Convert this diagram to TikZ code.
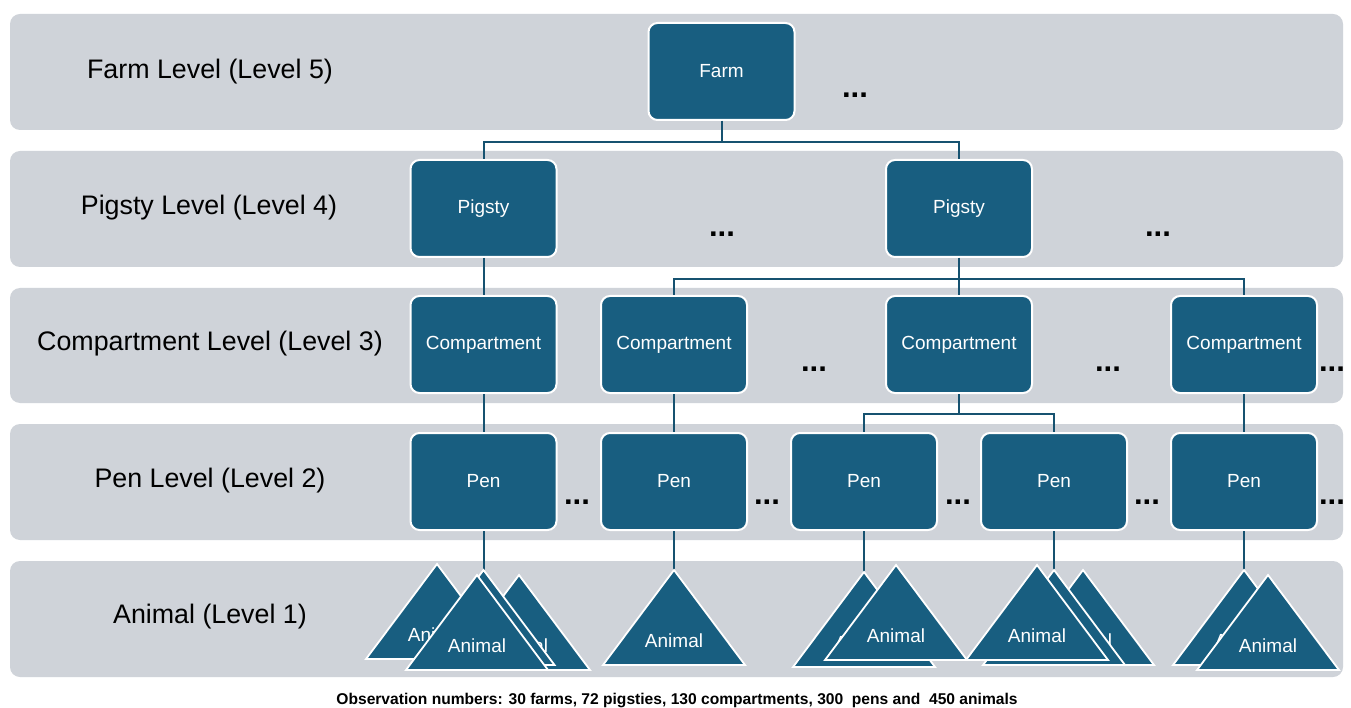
\documentclass[tikz,border=0pt]{standalone}
\usepackage{fontspec}
\setmainfont{Liberation Sans}
\definecolor{bandgray}{RGB}{207,211,217}
\definecolor{boxblue}{RGB}{24,94,128}
\definecolor{linecol}{RGB}{22,82,112}
\newcommand\animaltri[4]{%
  \coordinate (#1) at (#2,#3);
  \path[tri] (#1) -- ++(-71,95) -- ++(142,0) -- cycle;
  \node[trilabel] (#1-lab) at (#2,{#3+71}) {#4};}
\begin{document}
\begin{tikzpicture}[x=1pt,y=-1pt,
  band/.style={fill=bandgray, rounded corners=10pt},
  box/.style={fill=boxblue, draw=white, line width=2pt, rounded corners=9pt,
    minimum width=146pt, minimum height=97pt, text=white,
    font=\fontsize{19}{22}\selectfont, inner sep=0pt},
  lvl/.style={font=\fontsize{26.8}{30}\selectfont, text=black, inner sep=0pt},
  conn/.style={draw=linecol, line width=2pt},
  dots/.style={font=\bfseries\fontsize{31}{31}\selectfont, inner sep=0pt},
  tri/.style={fill=boxblue, draw=white, line width=1.8pt, line join=miter},
  trilabel/.style={text=white, font=\fontsize{19}{22}\selectfont, inner sep=0pt},
  caption/.style={font=\bfseries\fontsize{15.6}{18}\selectfont, inner sep=0pt}
]
\useasboundingbox (0,0) rectangle (1351,708);
\fill[white] (0,0) rectangle (1351,708);
% bands
\path[band] (10,14) rectangle (1343,130);
\path[band] (10,151) rectangle (1343,267);
\path[band] (10,288) rectangle (1343,403);
\path[band] (10,424) rectangle (1343,540);
\path[band] (10,561) rectangle (1343,677);
% level labels
\node[lvl] (l5) at (210,72) {Farm Level (Level 5)};
\node[lvl] (l4) at (209,208) {Pigsty Level (Level 4)};
\node[lvl] (l3) at (210,344) {Compartment Level (Level 3)};
\node[lvl] (l2) at (210,481) {Pen Level (Level 2)};
\node[lvl] (l1) at (210,617) {Animal (Level 1)};
% boxes
\node[box] (farm) at (721.5,71.5) {Farm};
\node[box] (pig1) at (483.5,208.5) {Pigsty};
\node[box] (pig2) at (959,208.5) {Pigsty};
\node[box] (comp1) at (483.5,344.5) {Compartment};
\node[box] (comp2) at (674,344.5) {Compartment};
\node[box] (comp3) at (959,344.5) {Compartment};
\node[box] (comp4) at (1244,344.5) {Compartment};
\node[box] (pen1) at (483.5,481.5) {Pen};
\node[box] (pen2) at (674,481.5) {Pen};
\node[box] (pen3) at (864,481.5) {Pen};
\node[box] (pen4) at (1054,481.5) {Pen};
\node[box] (pen5) at (1244,481.5) {Pen};
% dots
\node[dots] (d1) at (855,95) {...};
\node[dots] (d2) at (722,234) {...};
\node[dots] (d3) at (1158,234) {...};
\node[dots] (d4) at (814,369) {...};
\node[dots] (d5) at (1108,369) {...};
\node[dots] (d6) at (1332,369) {...};
\node[dots] (d7) at (577,502) {...};
\node[dots] (d8) at (767,502) {...};
\node[dots] (d9) at (958,502) {...};
\node[dots] (d10) at (1147,502) {...};
\node[dots] (d11) at (1332,502) {...};
% tree connectors
\draw[conn] (farm.south) -- ++(0,21) -| (pig1.north);
\draw[conn] (farm.south) -- ++(0,21) -| (pig2.north);
\draw[conn] (pig1.south) -- (comp1.north);
\draw[conn] (pig2.south) -- ++(0,21) -| (comp2.north);
\draw[conn] (pig2.south) -- ++(0,21) -| (comp3.north);
\draw[conn] (pig2.south) -- ++(0,21) -| (comp4.north);
\draw[conn] (comp1.south) -- (pen1.north);
\draw[conn] (comp2.south) -- (pen2.north);
\draw[conn] (comp3.south) -- ++(0,20) -| (pen3.north);
\draw[conn] (comp3.south) -- ++(0,20) -| (pen4.north);
\draw[conn] (comp4.south) -- (pen5.north);
% pen to animal connectors
\coordinate (a1b) at (483.5,570);
\coordinate (a2) at (674,570);
\coordinate (a3b) at (864,572);
\coordinate (a4b) at (1054,570);
\coordinate (a5b) at (1244,570);
\draw[conn] (pen1.south) -- (a1b);
\draw[conn] (pen2.south) -- (a2);
\draw[conn] (pen3.south) -- (a3b);
\draw[conn] (pen4.south) -- (a4b);
\draw[conn] (pen5.south) -- (a5b);
% animals group 1
\animaltri{g1l}{437}{564}{Animal}
\animaltri{g1r}{519}{575}{Animal}
\animaltri{g1m}{483.5}{570}{Animal}
\animaltri{g1f}{477}{575}{Animal}
% group 2
\animaltri{g2}{674}{570}{Animal}
% group 3
\animaltri{g3b}{864}{572}{Animal}
\animaltri{g3f}{896}{565}{Animal}
% group 4
\animaltri{g4r}{1083}{570}{Animal}
\animaltri{g4m}{1054}{570}{Animal}
\animaltri{g4f}{1037}{565}{Animal}
% group 5
\animaltri{g5b}{1244}{570}{Animal}
\animaltri{g5f}{1268}{575}{Animal}
% caption
\node[caption] (cap) at (677,700) {Observation numbers: 30 farms, 72 pigsties, 130 compartments, 300\ \ pens and\ \ 450 animals};
\end{tikzpicture}
\end{document}
